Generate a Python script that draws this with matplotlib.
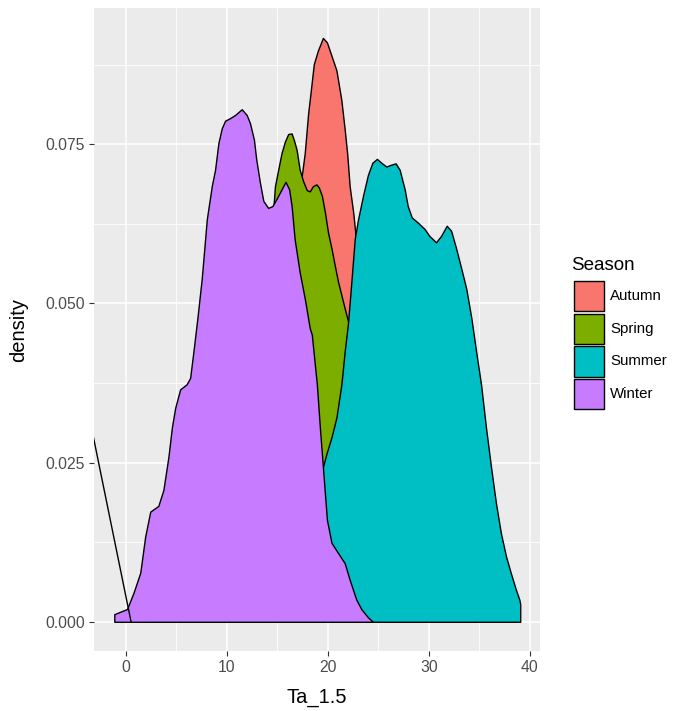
"""
plot.py - overlapping seasonal density curves of Ta_1.5 (ggplot-style).
Writes out.png (682x711).
"""

import matplotlib
matplotlib.use("Agg")
import matplotlib.pyplot as plt
from matplotlib.patches import Rectangle

plt.rcParams["font.family"] = ["Liberation Sans", "DejaVu Sans"]

W, H = 682, 711

# -----------------------------------------------------------------------
# Data (x = Ta_1.5, y = density)
SEASONS = ["Autumn", "Spring", "Summer", "Winter"]

autumn_x = [6.0, 9.0, 11.0, 13.0, 14.5, 15.5, 16.3, 16.9, 17.4, 17.7, 18.04,
            18.27, 18.6, 19.0, 19.5, 19.9, 20.35, 20.84, 21.33, 21.66, 21.9,
            22.15, 22.5, 22.7, 23.0, 23.5, 24.5, 26.0, 28.0, 30.0, 32.0]
autumn_y = [0.0, 0.002, 0.005, 0.012, 0.022, 0.033, 0.046, 0.060, 0.0700,
            0.0736, 0.0799, 0.0830, 0.0876, 0.0897, 0.0917, 0.0910, 0.0889,
            0.0866, 0.0819, 0.0773, 0.0736, 0.0684, 0.0643, 0.0612, 0.056,
            0.046, 0.030, 0.015, 0.006, 0.002, 0.0]

spring_x = [2.0, 4.0, 6.0, 8.0, 10.0, 12.0, 13.5, 14.5, 14.75, 15.07, 15.4,
            15.73, 16.06, 16.4, 16.62, 16.9, 17.2, 17.54, 17.9, 18.2, 18.5,
            18.86, 19.1, 19.4, 19.7, 20.0, 20.35, 20.67, 21.0, 21.33, 21.66,
            21.99, 22.5, 23.5, 25.0, 27.0, 29.0, 31.0, 33.0, 35.0]
spring_y = [0.0, 0.003, 0.008, 0.015, 0.025, 0.038, 0.052, 0.0630, 0.0684,
            0.0710, 0.0736, 0.0754, 0.0766, 0.0767, 0.0757, 0.0741, 0.0710,
            0.0692, 0.0678, 0.0676, 0.0684, 0.0687, 0.0682, 0.0669, 0.0643,
            0.0612, 0.0586, 0.0560, 0.0534, 0.0513, 0.0492, 0.0472, 0.0440,
            0.038, 0.028, 0.018, 0.011, 0.006, 0.002, 0.0]

summer_x = [12.0, 14.0, 16.0, 17.5, 18.5, 19.0, 19.5, 19.85, 20.35, 20.84,
            21.33, 21.66, 21.99, 22.32, 22.65, 22.98, 23.47, 23.96, 24.4,
            24.85, 25.28, 25.78, 26.27, 26.7, 27.1, 27.6, 27.9, 28.3, 28.9,
            29.56, 30.05, 30.7, 31.2, 31.76, 32.2, 32.7, 33.2, 33.7, 34.2,
            34.67, 35.16, 35.65, 36.15, 36.64, 37.13, 37.63, 38.1, 38.6,
            38.95, 39.04]
summer_y = [0.0005, 0.002, 0.006, 0.011, 0.016, 0.019, 0.0243, 0.0264, 0.0290,
            0.0321, 0.0373, 0.0425, 0.0470, 0.0534, 0.0601, 0.0632, 0.0669,
            0.0702, 0.0721, 0.0727, 0.0721, 0.0715, 0.0718, 0.0720, 0.0710,
            0.0679, 0.0653, 0.0635, 0.0627, 0.0617, 0.0606, 0.0596, 0.0606,
            0.0622, 0.0614, 0.0586, 0.0555, 0.0523, 0.0477, 0.0425, 0.0373,
            0.0305, 0.0243, 0.0186, 0.0139, 0.0103, 0.0077, 0.0051, 0.0035,
            0.0028]

winter_x = [-1.16, 0.1, 0.75, 1.41, 1.9, 2.4, 3.2, 3.7, 4.2, 4.54, 4.87, 5.36,
            6.0, 6.35, 6.68, 7.07, 7.5, 8.0, 8.49, 8.82, 9.15, 9.48, 9.81,
            10.3, 10.8, 11.46, 11.95, 12.28, 12.67, 12.9, 13.26, 13.6, 14.08,
            14.5, 14.9, 15.4, 15.8, 16.16, 16.4, 16.7, 17.2, 17.7, 18.2, 18.4,
            18.9, 19.2, 19.5, 19.7, 19.9, 20.35, 21.0, 21.66, 22.15, 22.8,
            23.3, 23.96, 24.45]
winter_y = [0.0012, 0.0020, 0.0046, 0.0077, 0.0134, 0.0173, 0.0182, 0.0207,
            0.0259, 0.0305, 0.0336, 0.0365, 0.0373, 0.0383, 0.0425, 0.0477,
            0.0539, 0.0632, 0.0684, 0.0710, 0.0752, 0.0775, 0.0787, 0.0791,
            0.0796, 0.0805, 0.0796, 0.0783, 0.0757, 0.0726, 0.0690, 0.0661,
            0.0650, 0.0653, 0.0664, 0.0679, 0.0691, 0.0679, 0.0653, 0.0601,
            0.0549, 0.0508, 0.0461, 0.0451, 0.0373, 0.0305, 0.0243, 0.0201,
            0.0160, 0.0124, 0.0108, 0.0092, 0.0066, 0.0035, 0.0020, 0.0007,
            0.0]

# stray outline segment that runs in from the left edge
stray_x = [-4.0, 0.5]
stray_y = [0.0350, 0.0]

x_ticks = [0, 10, 20, 30, 40]
y_ticks = [0.0, 0.025, 0.050, 0.075]
y_tick_labels = ["0.000", "0.025", "0.050", "0.075"]

# ggplot default hue palette
COLORS = {
    "Autumn": "#F8766D",
    "Spring": "#7CAE00",
    "Summer": "#00BFC4",
    "Winter": "#C77CFF",
}

SERIES = {
    "Autumn": (autumn_x, autumn_y),
    "Spring": (spring_x, spring_y),
    "Summer": (summer_x, summer_y),
    "Winter": (winter_x, winter_y),
}


def fx(px):
    return px / W


def fy(py):
    return 1 - py / H


# -----------------------------------------------------------------------
def draw_legend(fig):
    """ggplot-like legend: title + square keys with black borders."""
    fig.text(fx(571), fy(266), "Season", fontsize=13.5, va="center",
             ha="left")
    key_top, key_h, key_gap = 281, 30.5, 2.0
    for i, name in enumerate(SEASONS):
        top = key_top + i * (key_h + key_gap)
        fig.add_artist(Rectangle((fx(573.5), fy(top + key_h)),
                                 fx(30), key_h / H,
                                 transform=fig.transFigure,
                                 facecolor=COLORS[name], edgecolor="black",
                                 linewidth=1.0))
        fig.text(fx(610), fy(top + key_h / 2), name, fontsize=10.8,
                 va="center", ha="left")


def main():
    fig = plt.figure(figsize=(W / 100, H / 100), dpi=100)
    ax = fig.add_axes([fx(94), fy(651), fx(446), 643 / H])
    ax.set_facecolor("#EBEBEB")

    # grid (minor thinner, both white)
    for v in [5, 15, 25, 35]:
        ax.axvline(v, color="white", lw=0.6, zorder=0)
    for v in [0.0125, 0.0375, 0.0625, 0.0875]:
        ax.axhline(v, color="white", lw=0.6, zorder=0)
    for v in x_ticks:
        ax.axvline(v, color="white", lw=1.1, zorder=0)
    for v in y_ticks:
        ax.axhline(v, color="white", lw=1.1, zorder=0)

    # densities, drawn in legend order (Winter on top)
    for i, name in enumerate(SEASONS):
        xs, ys = SERIES[name]
        ax.fill_between(xs, ys, 0, facecolor=COLORS[name],
                        edgecolor="black", linewidth=1.0,
                        joinstyle="round", zorder=2 + i)

    ax.plot(stray_x, stray_y, color="black", lw=1.0, zorder=7)

    ax.set_xlim(-3.17, 41.0)
    ax.set_ylim(-0.00459, 0.0964)
    ax.set_xticks(x_ticks)
    ax.set_xticklabels([str(t) for t in x_ticks])
    ax.set_yticks(y_ticks)
    ax.set_yticklabels(y_tick_labels)
    ax.tick_params(axis="both", length=3.5, width=0.8, color="#333333",
                   labelcolor="#4D4D4D", labelsize=11.3, pad=3)
    for s in ax.spines.values():
        s.set_visible(False)

    ax.set_xlabel("Ta_1.5", fontsize=14.5)
    ax.set_ylabel("density", fontsize=14.5)
    ax.xaxis.set_label_coords(0.5, -0.058)
    ax.yaxis.set_label_coords(-0.148, 0.5)

    draw_legend(fig)

    fig.savefig("out.png", dpi=100)
    plt.close(fig)


if __name__ == "__main__":
    main()
